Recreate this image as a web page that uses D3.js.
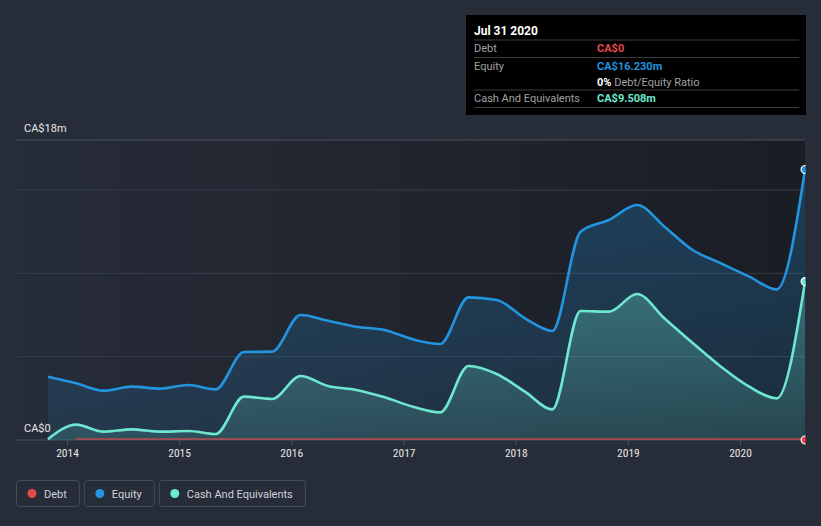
<!DOCTYPE html>
<html><head><meta charset="utf-8">
<script src="https://cdn.jsdelivr.net/npm/d3@7"></script>
<style>
html,body{margin:0;padding:0;background:#262c38;}
svg{display:block;font-family:Roboto,"Noto Sans",sans-serif;}
</style></head><body>
<svg id="c" width="821" height="526"></svg>
<script>
const dates = ["2013-10-31","2014-01-31","2014-04-30","2014-07-31","2014-10-31","2015-01-31","2015-04-30","2015-07-31","2015-10-31","2016-01-31","2016-04-30","2016-07-31","2016-10-31","2017-01-31","2017-04-30","2017-07-31","2017-10-31","2018-01-31","2018-04-30","2018-07-31","2018-10-31","2019-01-31","2019-04-30","2019-07-31","2019-10-31","2020-01-31","2020-04-30","2020-07-31"];
const equity = [3.8,3.4,2.96,3.2,3.08,3.3,3.04,5.28,5.3,7.5,7.16,6.8,6.6,6.04,5.76,8.56,8.4,7.3,6.54,12.5,13.2,14.1,12.8,11.4,10.6,9.8,9.04,16.23];
const cash = [0.05,0.92,0.5,0.64,0.5,0.54,0.36,2.6,2.46,3.84,3.24,3.0,2.56,2.0,1.66,4.44,3.96,2.9,1.84,7.74,7.7,8.76,7.3,5.82,4.4,3.2,2.5,9.508];
const debtDates = dates.slice(1);
const debt = debtDates.map(()=>0);
const yTickValues = [0,5,10,15,18];
const yLabels = [{v:18,t:"CA$18m"},{v:0,t:"CA$0"}];
const xTickYears = [2014,2015,2016,2017,2018,2019,2020];
const tooltipTitle = "Jul 31 2020";
const legendItems = [{name:"Debt",color:"#e64848"},{name:"Equity",color:"#2394df"},{name:"Cash And Equivalents",color:"#6ee6d0"}];

const parse = d3.timeParse("%Y-%m-%d");
const D = dates.map(parse);
const svg = d3.select("#c");
const L=16,R=805,T=140,B=440;
const t14 = new Date(2014,0,1), t20 = new Date(2020,0,1);
const x = d3.scaleTime().domain([t14,t20]).range([67,740]);
const y = d3.scaleLinear().domain([0,18]).range([B,T]);

const defs = svg.append("defs");
const bg = defs.append("linearGradient").attr("id","bg").attr("x1","0").attr("x2","1").attr("y1","0").attr("y2","0");
bg.append("stop").attr("offset","0").attr("stop-color","#262c38");
bg.append("stop").attr("offset","1").attr("stop-color","#1a1d24");
const ge = defs.append("linearGradient").attr("id","ge").attr("x1","0").attr("x2","0").attr("y1","0").attr("y2","1");
ge.append("stop").attr("offset","0").attr("stop-color","#2394df").attr("stop-opacity",0.28);
ge.append("stop").attr("offset","1").attr("stop-color","#2394df").attr("stop-opacity",0.12);
const gc = defs.append("linearGradient").attr("id","gc").attr("x1","0").attr("x2","0").attr("y1","0").attr("y2","1");
gc.append("stop").attr("offset","0").attr("stop-color","#6ee6d0").attr("stop-opacity",0.32);
gc.append("stop").attr("offset","1").attr("stop-color","#6ee6d0").attr("stop-opacity",0.14);
defs.append("clipPath").attr("id","clip").append("rect").attr("x",L).attr("y",0).attr("width",R-L+0.5).attr("height",B+6);

svg.append("rect").attr("x",L).attr("y",T).attr("width",R-L).attr("height",B-T).attr("fill","url(#bg)");

svg.append("g").selectAll("line").data(yTickValues).join("line")
  .attr("x1",L).attr("x2",R).attr("y1",d=>y(d)).attr("y2",d=>y(d))
  .attr("stroke",d=>(d===18||d===0)?"#4a505c":"#363c48").attr("stroke-width",1);

const g = svg.append("g").attr("clip-path","url(#clip)");
const curve = d3.curveMonotoneX;
const area = d3.area().x((d,i)=>x(D[i])).y0(y(0)).curve(curve);
const line = d3.line().x((d,i)=>x(D[i])).curve(curve);

g.append("path").datum(equity).attr("d",area.y1(d=>y(d))).attr("fill","url(#ge)");
g.append("path").datum(cash).attr("d",area.y1(d=>y(d))).attr("fill","url(#gc)");
g.append("path").datum(equity).attr("d",line.y(d=>y(d))).attr("fill","none").attr("stroke","#2394df").attr("stroke-width",2.6);
g.append("path").datum(cash).attr("d",line.y(d=>y(d))).attr("fill","none").attr("stroke","#6ee6d0").attr("stroke-width",2.6);
const DD = debtDates.map(parse);
g.append("path").datum(debt).attr("d",d3.line().x((d,i)=>x(DD[i])).y(d=>y(d)-1).curve(curve)).attr("fill","none").attr("stroke","#e64848").attr("stroke-opacity",0.75).attr("stroke-width",1.6);

const last = D[D.length-1];
g.append("circle").attr("cx",x(last)).attr("cy",y(equity[equity.length-1])).attr("r",4).attr("fill","#2394df").attr("stroke","#fff").attr("stroke-width",1.2);
g.append("circle").attr("cx",x(last)).attr("cy",y(cash[cash.length-1])).attr("r",4).attr("fill","#6ee6d0").attr("stroke","#fff").attr("stroke-width",1.2);
g.append("circle").attr("cx",x(last)).attr("cy",y(0)).attr("r",4).attr("fill","#e64848").attr("stroke","#fff").attr("stroke-width",1.2);

const xa = svg.append("g").attr("transform",`translate(0,${B})`)
  .call(d3.axisBottom(x).tickValues(xTickYears.map(yy=>new Date(yy,0,1))).tickFormat(d3.timeFormat("%Y")).tickSize(5).tickPadding(4));
xa.select(".domain").remove();
xa.selectAll("line").attr("stroke","#4a505c");
xa.selectAll("text").attr("fill","#e6e6e6").attr("font-size",11.5).attr("font-family","'Roboto Condensed','DejaVu Sans Condensed',Roboto,sans-serif").attr("font-stretch","condensed");

svg.append("g").selectAll("text").data(yLabels).join("text")
  .attr("x",24).attr("y",d=>y(d.v)-8).attr("fill","#e6e6e6").attr("font-size",11).text(d=>d.t);

const tt = svg.append("g").attr("transform","translate(466,15)");
tt.append("rect").attr("width",340).attr("height",100).attr("fill","#000");
tt.append("text").attr("x",8).attr("y",20).attr("fill","#fff").attr("font-size",12).attr("font-weight","bold").text(tooltipTitle);
[25,42.5,75,92.5].forEach(yy=>tt.append("line").attr("x1",8).attr("x2",333).attr("y1",yy).attr("y2",yy).attr("stroke","#3d3d3d"));
const rowT = (yy,txt)=>tt.append("text").attr("x",8).attr("y",yy).attr("fill","#a0a0a0").attr("font-size",11).text(txt);
rowT(37,"Debt"); rowT(54.5,"Equity"); rowT(87,"Cash And Equivalents");
const fmt = v=>"CA$"+(v===0?"0":d3.format(".3f")(v)+"m");
tt.append("text").attr("x",131).attr("y",37).attr("fill","#e64848").attr("font-size",11).attr("font-weight","bold").text(fmt(debt[debt.length-1]));
tt.append("text").attr("x",131).attr("y",54.5).attr("fill","#2394df").attr("font-size",11).attr("font-weight","bold").text(fmt(equity[equity.length-1]));
const ratio = tt.append("text").attr("x",131).attr("y",70.5).attr("font-size",11);
ratio.append("tspan").attr("fill","#fff").attr("font-weight","bold").text(d3.format(".0%")(debt[debt.length-1]/equity[equity.length-1]));
ratio.append("tspan").attr("fill","#a0a0a0").text(" Debt/Equity Ratio");
tt.append("text").attr("x",131).attr("y",87).attr("fill","#6ee6d0").attr("font-size",11).attr("font-weight","bold").text(fmt(cash[cash.length-1]));

const lg = svg.append("g").attr("transform","translate(16,480)");
let lx = 0;
legendItems.forEach(it=>{
  const gi = lg.append("g").attr("transform",`translate(${lx},0)`);
  const t = gi.append("text").attr("x",28).attr("y",17.5).attr("fill","#d0d3d8").attr("font-size",11).text(it.name);
  const w = t.node().getComputedTextLength()+28+12;
  gi.insert("rect","text").attr("x",0.5).attr("y",0.5).attr("width",w).attr("height",26).attr("rx",3).attr("fill","none").attr("stroke","#474d59");
  gi.append("circle").attr("cx",16).attr("cy",13.5).attr("r",4.5).attr("fill",it.color);
  lx += w + 5;
});
</script></body></html>
